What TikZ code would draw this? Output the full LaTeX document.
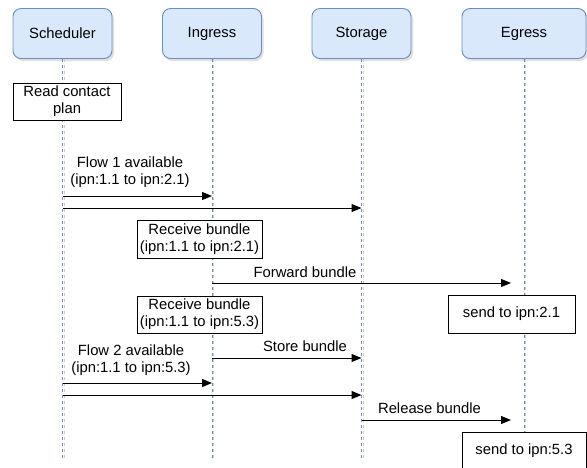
\documentclass[tikz,border=0pt]{standalone}
\usepackage{fontspec}
\setmainfont{Liberation Sans}
\usetikzlibrary{arrows.meta,positioning,shadows}

\definecolor{headfill}{HTML}{DAE8FC}
\definecolor{headline}{HTML}{6C8EBF}

\begin{document}
\begin{tikzpicture}[
  x=1pt, y=-1pt,
  actor/.style={draw=headline, fill=headfill, rounded corners=8pt, line width=0.9pt,
    minimum width=99pt, minimum height=50pt, font=\fontsize{14.8}{17}\selectfont,
    drop shadow={shadow xshift=2pt, shadow yshift=-2.5pt, opacity=0.25}},
  note/.style={draw, fill=white, line width=0.9pt, inner sep=0pt, align=center,
    minimum width=125pt, minimum height=38pt, font=\fontsize{14.8}{17}\selectfont},
  lbl/.style={inner sep=0pt, align=center, font=\fontsize{14.8}{17}\selectfont},
  msg/.style={-{Triangle[length=10pt, width=8pt]}, line width=1pt},
  life/.style={draw=headline, dash pattern=on 3pt off 3pt, line width=0.9pt},
  lifeshade/.style={draw=black!20, dash pattern=on 3pt off 3pt, line width=0.9pt}
]
\useasboundingbox (0,0) rectangle (587,467);

\node[actor] (sched) at (62.5,33.5) {Scheduler};
\node[actor] (ingr) at (212,33.5) {Ingress};
\node[actor] (stor) at (361.5,33.5) {Storage};
\node[actor, minimum width=124pt] (egr) at (524,33.5) {Egress};

\coordinate (bottom) at (0,460);
\foreach \who in {sched, ingr, stor, egr} {
  \draw[lifeshade] ([xshift=1.8pt]\who.south) -- ([xshift=1.8pt]\who.south |- bottom);
  \draw[life] (\who.south) -- (\who.south |- bottom);
}

\coordinate (r1) at (0,196);
\coordinate (r2) at (0,208);
\coordinate (r3) at (0,283);
\coordinate (r4) at (0,358);
\coordinate (r5) at (0,383);
\coordinate (r6) at (0,395);
\coordinate (r7) at (0,420);

\node[note, minimum width=108pt, minimum height=37pt] (readplan) at (67,101.5) {Read contact\\plan};
\node[lbl] (flow1) at (130,172.5) {Flow 1 available\\(ipn:1.1 to ipn:2.1)};
\draw[msg] (sched |- r1) -- (ingr |- r1);
\draw[msg] (sched |- r2) -- (stor |- r2);
\node[note] (recv1) at (199.5,239) {Receive bundle\\(ipn:1.1 to ipn:2.1)};
\node[lbl] (fwd) at (305,272) {Forward bundle};
\draw[msg, shorten >=13pt] (ingr |- r3) -- (egr |- r3);
\node[note, minimum height=37pt] (recv2) at (199.5,314.5) {Receive bundle\\(ipn:1.1 to ipn:5.3)};
\node[note, minimum width=127pt] (send1) at (511.5,314) {send to ipn:2.1};
\node[lbl] (store) at (305,346.5) {Store bundle};
\draw[msg] (ingr |- r4) -- (stor |- r4);
\node[lbl] (flow2) at (131,360) {Flow 2 available\\(ipn:1.1 to ipn:5.3)};
\draw[msg] (sched |- r5) -- (ingr |- r5);
\draw[msg] (sched |- r6) -- (stor |- r6);
\node[lbl] (release) at (429.5,408) {Release bundle};
\draw[msg, shorten >=13pt] (stor |- r7) -- (egr |- r7);
\node[note, minimum width=124pt] (send2) at (524,451) {send to ipn:5.3};
\end{tikzpicture}
\end{document}
